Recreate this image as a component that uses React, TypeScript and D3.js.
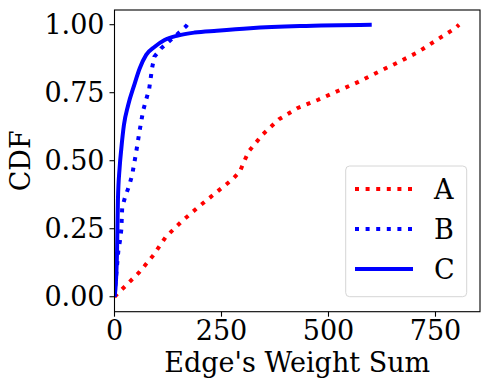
import React from 'react';
import * as d3 from 'd3';

// CDF curves: [edge weight sum, cumulative fraction]
const seriesA: [number, number][] = [
  [0, 0], [58, 0.09], [91, 0.153], [120, 0.22], [157, 0.277], [196, 0.33],
  [235, 0.38], [276, 0.432], [293, 0.46], [303, 0.498], [314, 0.535],
  [346, 0.596], [384, 0.652], [427, 0.693], [476, 0.724], [523, 0.757],
  [570, 0.79], [616, 0.826], [663, 0.862], [709, 0.899], [752, 0.943],
  [796, 0.987], [805, 1.0]
];
const seriesB: [number, number][] = [
  [0, 0], [1, 0.025], [5, 0.098], [9, 0.169], [13, 0.208], [16, 0.248],
  [18, 0.329], [25, 0.368], [34, 0.407], [41, 0.446], [50, 0.525],
  [58, 0.604], [67, 0.685], [81, 0.764], [88, 0.842], [93, 0.882],
  [109, 0.913], [129, 0.941], [148, 0.967], [167, 0.994], [170, 1.0]
];
const seriesC: [number, number][] = [
  [0, 0], [2, 0.025], [6, 0.17], [8, 0.355], [12, 0.475], [16, 0.546],
  [22, 0.631], [32, 0.705], [46, 0.778], [59, 0.84], [74, 0.889],
  [94, 0.919], [117, 0.944], [148, 0.96], [187, 0.971], [239, 0.978],
  [317, 0.987], [433, 0.995], [601, 1.0]
];
const xTicks = [0, 250, 500, 750];
const yTicks = [0, 0.25, 0.5, 0.75, 1.0];
const legendNames = ['A', 'B', 'C'];

const W = 490;
const H = 390;
const left = 114.5;
const right = 480;
const top = 10;
const bottom = 311.7;
const font = '"DejaVu Serif", serif';
const fs = 27;

export default function App() {
  const x = d3.scaleLinear().domain([0, 854]).range([left, right]);
  const y = d3.scaleLinear().domain([-0.055, 1.054]).range([bottom, top]);
  const line = d3
    .line<[number, number]>()
    .x(d => x(d[0]))
    .y(d => y(d[1]));
  // the solid curve is a dense empirical cdf, so smooth it a little
  const smooth = d3
    .line<[number, number]>()
    .x(d => x(d[0]))
    .y(d => y(d[1]))
    .curve(d3.curveMonotoneX);

  const series = [
    { data: seriesA, color: 'red', dash: '4 6.6', gen: line },
    { data: seriesB, color: 'blue', dash: '4 6.6', gen: line },
    { data: seriesC, color: 'blue', dash: undefined, gen: smooth }
  ];

  return (
    <svg
      width={W}
      height={H}
      style={{ position: 'absolute', left: 0, top: 0, background: 'white' }}
    >
      <defs>
        <clipPath id="plot">
          <rect x={left} y={top} width={right - left} height={bottom - top} />
        </clipPath>
      </defs>
      <g clipPath="url(#plot)">
        {series.map((s, i) => (
          <path
            key={i}
            d={s.gen(s.data) || ''}
            fill="none"
            stroke={s.color}
            strokeWidth={4}
            strokeDasharray={s.dash}
          />
        ))}
      </g>
      <rect
        x={left}
        y={top}
        width={right - left}
        height={bottom - top}
        fill="none"
        stroke="black"
        strokeWidth={1.1}
      />
      {xTicks.map(t => (
        <g key={t}>
          <line x1={x(t)} x2={x(t)} y1={bottom} y2={bottom + 5} stroke="black" strokeWidth={1.1} />
          <text x={x(t)} y={bottom + 28} textAnchor="middle" fontFamily={font} fontSize={fs}>
            {t}
          </text>
        </g>
      ))}
      {yTicks.map(t => (
        <g key={t}>
          <line x1={left - 5} x2={left} y1={y(t)} y2={y(t)} stroke="black" strokeWidth={1.1} />
          <text
            x={left - 10}
            y={y(t)}
            textAnchor="end"
            dominantBaseline="central"
            fontFamily={font}
            fontSize={fs}
          >
            {t.toFixed(2)}
          </text>
        </g>
      ))}
      <text
        x={(left + right) / 2}
        y={372}
        textAnchor="middle"
        fontFamily={font}
        fontSize={fs}
      >
        Edge's Weight Sum
      </text>
      <text
        transform={`translate(30,${(top + bottom) / 2}) rotate(-90)`}
        textAnchor="middle"
        fontFamily={font}
        fontSize={fs}
      >
        CDF
      </text>
      <g>
        <rect
          x={345.7}
          y={166}
          width={121}
          height={130.7}
          rx={4}
          fill="white"
          fillOpacity={0.8}
          stroke="#d6d6d6"
          strokeWidth={1}
        />
        {series.map((s, i) => {
          const ly = 189 + i * 40;
          return (
            <g key={i}>
              <line
                x1={355}
                x2={413}
                y1={ly}
                y2={ly}
                stroke={s.color}
                strokeWidth={4}
                strokeDasharray={s.dash}
              />
              <text
                x={434}
                y={ly}
                dominantBaseline="central"
                fontFamily={font}
                fontSize={fs}
              >
                {legendNames[i]}
              </text>
            </g>
          );
        })}
      </g>
    </svg>
  );
}
